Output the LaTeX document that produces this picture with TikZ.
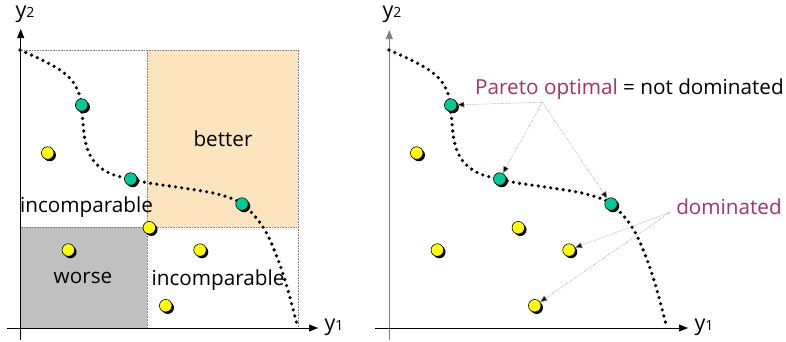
\documentclass[tikz,border=0pt]{standalone}
\usepackage{fontspec}
\setmainfont{Open Sans}
\usetikzlibrary{arrows.meta,shadows}
\definecolor{peach}{RGB}{252,228,190}
\definecolor{greyarea}{RGB}{192,192,192}
\definecolor{teal2}{RGB}{0,200,150}
\definecolor{dotyellow}{RGB}{255,255,0}
\definecolor{magenta2}{RGB}{160,50,110}
\tikzset{
  pt/.style={circle, draw=black, line width=0.6pt, minimum size=12.5pt, inner sep=0pt, fill=#1,
    drop shadow={shadow xshift=2pt, shadow yshift=-2pt, fill=black, opacity=1}},
  axis/.style={line width=0.7pt, -{Triangle[length=9pt,width=7pt]}},
  front/.style={line width=3.6pt, line cap=round, dash pattern=on 0pt off 6.3pt},
  border/.style={draw=gray, densely dotted, line width=0.6pt},
  ann/.style={draw=gray!90, line width=0.55pt, densely dotted, -{Triangle[length=7pt,width=6pt,fill=black]}},
  lab/.style={font=\fontsize{20.7}{24}\selectfont, inner sep=0pt},
  axlab/.style={font=\fontsize{21.5}{24}\selectfont, inner sep=0pt}
}
\newcommand{\axl}[1]{y{\fontsize{14}{15}\selectfont #1}}
\begin{document}
\begin{tikzpicture}[x=1pt,y=-1pt]
\useasboundingbox (0,0) rectangle (786,341);
% ---------- left panel ----------
\fill[peach] (147,50) rectangle (298,227);
\fill[greyarea] (20.7,227) rectangle (147,328);
\draw[border] (20.7,50) -- (298,50) -- (298,328);
\draw[border] (147,50) -- (147,328);
\draw[border] (20.7,227) -- (298,227);
\draw[axis] (20.7,340) -- (20.7,29);
\draw[axis] (7,328) -- (318,328);
\node[axlab] (ly2) at (25,14) {\axl{2}};
\node[axlab] (ly1) at (334,327) {\axl{1}};
\draw[front] plot[smooth, tension=0.6] coordinates {(20,50) (40,59) (60,70) (73,82) (80,97) (82,113) (85,140) (91,157) (101,168) (114,175) (131,179) (147,182.7) (183,188) (217,194) (242,204) (263,227) (277,257) (287,287) (297.7,327)};
\node[pt=teal2] (lg1) at (81.7,105) {};
\node[pt=teal2] (lg2) at (130.7,179) {};
\node[pt=teal2] (lg3) at (242,204) {};
\node[pt=dotyellow] (ly1p) at (47.7,153) {};
\node[pt=dotyellow] (ly2p) at (149.3,227.7) {};
\node[pt=dotyellow] (ly3p) at (68.3,250) {};
\node[pt=dotyellow] (ly4p) at (200,250) {};
\node[pt=dotyellow] (ly5p) at (165.7,305.7) {};
\node[lab] (tbetter) at (223,139) {better};
\node[lab] (tinc1) at (86.5,207) {incomparable};
\node[lab] (tworse) at (83,278) {worse};
\node[lab] (tinc2) at (218,280) {incomparable};
% ---------- right panel ----------
\begin{scope}[xshift=369pt]
\draw[axis, draw=gray] (20.3,340) -- (20.3,30);
\draw[axis] (6,328) -- (319,328);
\node[axlab] (ry2) at (23,14) {\axl{2}};
\node[axlab] (ry1) at (335,327) {\axl{1}};
\draw[front] plot[smooth, tension=0.6] coordinates {(20,50) (40,59) (60,70) (73,82) (80,97) (82,113) (85,140) (91,157) (101,168) (114,175) (131,179) (147,182.7) (183,188) (217,194) (242,204) (263,227) (277,257) (287,287) (297.7,327)};
\node[pt=teal2] (rg1) at (81.7,105) {};
\node[pt=teal2] (rg2) at (130.7,179) {};
\node[pt=teal2] (rg3) at (242,204) {};
\node[pt=dotyellow] (ry1p) at (47.7,153) {};
\node[pt=dotyellow] (ry2p) at (149.3,227.7) {};
\node[pt=dotyellow] (ry3p) at (68.3,250) {};
\node[pt=dotyellow] (ry4p) at (200,250) {};
\node[pt=dotyellow] (ry5p) at (165.7,305.7) {};
\end{scope}
\node[lab] (tpareto) at (629.5,89) {\textcolor{magenta2}{Pareto optimal} = not dominated};
\node[lab, text=magenta2] (tdom) at (729,207) {dominated};
\coordinate (ps) at (542.3,102.3);
\coordinate (ds) at (670,212.3);
\draw[ann] (ps) -- (rg1);
\draw[ann] (ps) -- (rg2);
\draw[ann] (ps) -- (rg3);
\draw[ann] (ds) -- (ry4p);
\draw[ann] (ds) -- (ry5p);
\end{tikzpicture}
\end{document}
